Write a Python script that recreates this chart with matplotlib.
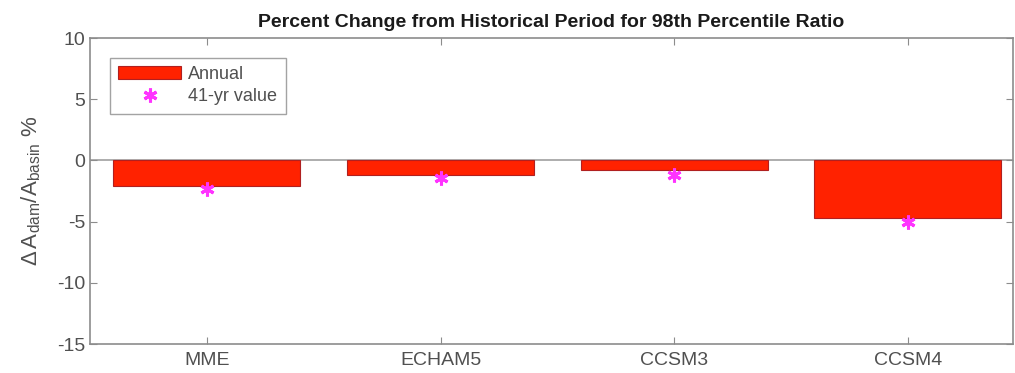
import numpy as np
import matplotlib
matplotlib.use('Agg')
import matplotlib.pyplot as plt

# 各模式相对历史时期的变化（%）
models = ['MME', 'ECHAM5', 'CCSM3', 'CCSM4']
annual = [-2.1, -1.2, -0.8, -4.7]
value_41yr = [-2.35, -1.4, -1.2, -5.0]

plt.rcParams['font.family'] = ['Liberation Sans', 'DejaVu Sans']
plt.rcParams['mathtext.fontset'] = 'custom'
plt.rcParams['mathtext.rm'] = 'Liberation Sans'
plt.rcParams['mathtext.it'] = 'Liberation Sans'
plt.rcParams['axes.unicode_minus'] = False

axis_col = '#8c8c8c'
text_col = '#505050'

fig = plt.figure(figsize=(10.15, 3.73), dpi=100)
ax = fig.add_axes([0.0887, 0.0777, 0.9094, 0.8204])

x = np.arange(1, len(models) + 1)
bars = ax.bar(x, annual, width=0.8, color='#ff2200', edgecolor='#b02020',
              linewidth=0.8, label='Annual', zorder=2)
pts, = ax.plot(x, value_41yr, linestyle='none', marker=(6, 2, 0), markersize=10,
               markeredgewidth=2.2, color='#ff33ff', label='41-yr value', zorder=3)
ax.axhline(0, color='#a0a0a0', linewidth=1.2, zorder=1)

ax.set_xlim(0.5, 4.45)
ax.set_ylim(-15, 10)
ax.set_xticks(x)
ax.set_xticklabels(models)
ax.set_yticks([-15, -10, -5, 0, 5, 10])

for s in ax.spines.values():
    s.set_color(axis_col)
    s.set_linewidth(1.2)
ax.tick_params(direction='in', colors=axis_col, labelcolor=text_col,
               labelsize=14, length=5, top=True, right=True)
ax.tick_params(axis='x', pad=6)

ax.set_ylabel(r'$\Delta\,\mathrm{A}_{\mathrm{dam}}/\mathrm{A}_{\mathrm{basin}}$ %',
              fontsize=16, color=text_col, labelpad=10)
ax.set_title('Percent Change from Historical Period for 98th Percentile Ratio',
             fontsize=14, fontweight='bold', color='#1a1a1a', pad=8)

leg = ax.legend([bars, pts], ['Annual', '41-yr value'], loc='upper left',
                fontsize=13, frameon=True, fancybox=False,
                borderaxespad=1.1, handlelength=3.5, handletextpad=0.4,
                labelspacing=0.3, borderpad=0.45)
leg.get_frame().set_edgecolor(axis_col)
leg.get_frame().set_linewidth(1.0)
for t in leg.get_texts():
    t.set_color(text_col)

fig.savefig('out.png', dpi=100)
